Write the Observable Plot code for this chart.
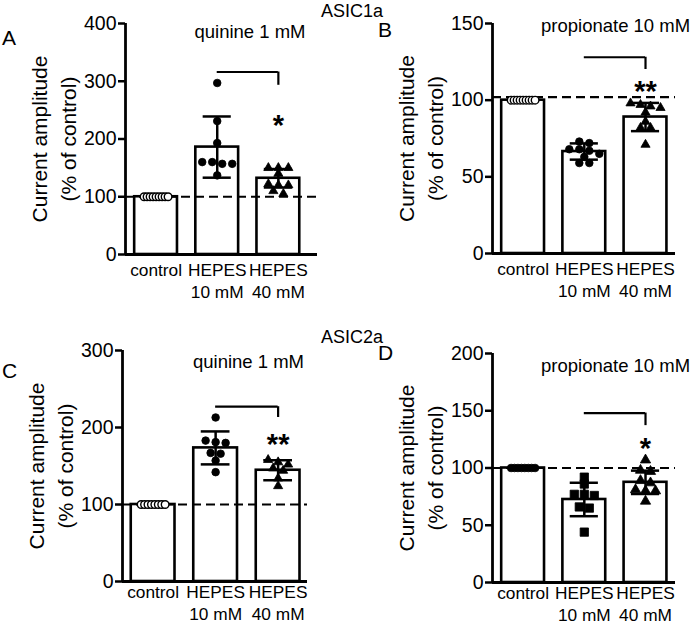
<!DOCTYPE html>
<html>
<head>
<meta charset="utf-8">
<script src="https://cdn.jsdelivr.net/npm/d3@7"></script>
<script src="https://cdn.jsdelivr.net/npm/@observablehq/plot@0.6"></script>
<style>
  html, body { margin: 0; padding: 0; background: #fff; }
  #wrap { position: relative; width: 693px; height: 627px; overflow: hidden;
          font-family: "Liberation Sans", Arial, Helvetica, sans-serif; color: #000; }
  #wrap .lbl { position: absolute; line-height: 1; white-space: nowrap; }
  #wrap svg { position: absolute; overflow: visible; }
</style>
</head>
<body>
<div id="wrap"></div>
<script>
// ---------- data ----------
const categories = ["control", "HEPES\n10 mM", "HEPES\n40 mM"];

// Panel A (ASIC1a, quinine 1 mM)
const aControl = [100, 100, 100, 100, 100, 100, 100, 100, 100];
const aHepes10 = [297, 231, 193, 160, 160, 157, 157, 137];
const aHepes40 = [150, 150, 150, 140, 122, 120, 120, 110, 105];
const aMeans = [100, 186, 132];
const aSD = [0, 53, 16];
const aTicks = [0, 100, 200, 300, 400];
const aBracket = [316, 293];
const aStar = ["*", 237];

// Panel B (ASIC1a, propionate 10 mM)
const bControl = [100, 100, 100, 100, 100, 100, 100, 100, 100];
const bHepes10 = [73, 72, 68, 68, 67, 65, 63, 59, 59];
const bHepes40 = [98, 97, 96, 95, 92, 86, 82, 82, 71];
const bMeans = [100, 66.5, 89];
const bSD = [0, 5.3, 9.2];
const bTicks = [0, 50, 100, 150];
const bBracket = [128, 120];
const bStar = ["**", 110.5];

// Panel C (ASIC2a, quinine 1 mM)
const cControl = [100, 100, 100, 100, 100, 100, 100, 100];
const cHepes10 = [213, 183, 181, 180, 167, 166, 157, 142];
const cHepes40 = [158, 155, 152, 147, 144, 134, 124];
const cMeans = [100, 173.5, 144.5];
const cSD = [0, 21.4, 13];
const cTicks = [0, 100, 200, 300];
const cBracket = [227, 213];
const cStar = ["**", 188];

// Panel D (ASIC2a, propionate 10 mM)
const dControl = [100, 100, 100, 100, 100, 100, 100, 100];
const dHepes10 = [92, 86, 77, 77, 76, 66, 65, 44];
const dHepes40 = [107, 98, 97, 89, 87, 81, 80, 80, 71];
const dMeans = [100, 72.5, 87.5];
const dSD = [0, 14.6, 10.2];
const dTicks = [0, 50, 100, 150, 200];
const dBracket = [148, 137];
const dStar = ["*", 124];

const refLines = [100, 102, 100, 100];
const yLabel = "Current amplitude\n(% of control)";

// ---------- layout ----------
const FONT = "Liberation Sans, Arial, Helvetica, sans-serif";
const panels = [
  {left: 0, top: 0, width: 346, height: 305, ml: 125, mr: 29, mt: 23, mb: 51, xdom: [-0.5, 2.64], ymax: 400, catDy: 6,
   ticks: aTicks, means: aMeans, sd: aSD, pts: [aControl, aHepes10, aHepes40], bracket: aBracket, star: aStar,
   ref: refLines[0], syms: ["circle", "circle", "triangle"], fills: ["white", "black", "black"], rs: [3.8, 3.8, 3.4]},
  {left: 340, top: 0, width: 353, height: 305, ml: 152, mr: 18, mt: 23, mb: 52, xdom: [-0.5, 2.49], ymax: 150, catDy: 6,
   ticks: bTicks, means: bMeans, sd: bSD, pts: [bControl, bHepes10, bHepes40], bracket: bBracket, star: bStar,
   ref: refLines[1], syms: ["circle", "circle", "triangle"], fills: ["white", "black", "black"], rs: [3.8, 3.8, 3.4]},
  {left: 0, top: 300, width: 346, height: 327, ml: 122, mr: 39, mt: 50, mb: 46, xdom: [-0.49, 2.47], ymax: 300, catDy: 1,
   ticks: cTicks, means: cMeans, sd: cSD, pts: [cControl, cHepes10, cHepes40], bracket: cBracket, star: cStar,
   ref: refLines[2], syms: ["circle", "circle", "triangle"], fills: ["white", "black", "black"], rs: [3.8, 3.8, 3.4]},
  {left: 340, top: 300, width: 353, height: 327, ml: 152, mr: 18, mt: 53, mb: 45, xdom: [-0.5, 2.49], ymax: 200, catDy: 1,
   ticks: dTicks, means: dMeans, sd: dSD, pts: [dControl, dHepes10, dHepes40], bracket: dBracket, star: dStar,
   ref: refLines[3], syms: ["circle", "square", "triangle"], fills: ["black", "black", "black"], rs: [3.8, 4.7, 3.8]}
];

// scatter-dot arrangement (rows of near-equal values spread horizontally)
function swarm(values, k, stepPx, ci) {
  const sorted = values.slice().sort((a, b) => b - a);
  const rows = [];
  for (const v of sorted) {
    const row = rows[rows.length - 1];
    if (row && (row[0] - v) * k < 5) row.push(v); else rows.push([v]);
  }
  const out = [];
  for (const row of rows) {
    const n = row.length;
    const maxW = n > 5 ? 24 : 32;
    let s = 10;
    if ((n - 1) * s > maxW) s = maxW / (n - 1);
    row.forEach((v, j) => out.push({x: ci + (j - (n - 1) / 2) * s / stepPx, y: v}));
  }
  return out;
}

const wrap = document.getElementById("wrap");

panels.forEach((p) => {
  const k = (p.height - p.mt - p.mb) / p.ymax;
  const stepPx = (p.width - p.ml - p.mr) / (p.xdom[1] - p.xdom[0]);
  const bars = p.means.map((m, i) => ({i, mean: m, sd: p.sd[i]}));
  const errs = bars.filter(d => d.sd > 0);
  const cats = categories.map((c, i) => ({i, label: c}));
  const dotMarks = p.pts.map((vals, ci) =>
    Plot.dot(swarm(vals, k, stepPx, ci), {
      x: "x", y: "y", symbol: p.syms[ci], r: p.rs[ci],
      fill: p.fills[ci], stroke: "black", strokeWidth: p.fills[ci] === "white" ? 1.4 : 0.8
    })
  );
  const br = [{from: 1, to: 2, top: p.bracket[0], bottom: p.bracket[1]}];
  const st = [{x: 2, y: p.star[1], s: p.star[0]}];

  const chart = Plot.plot({
    width: p.width, height: p.height,
    marginLeft: p.ml, marginRight: p.mr, marginTop: p.mt, marginBottom: p.mb,
    style: {fontFamily: FONT, background: "transparent", overflow: "visible"},
    x: {domain: p.xdom, axis: null},
    y: {domain: [0, p.ymax], axis: null},
    marks: [
      Plot.rect(bars, {x1: d => d.i - 0.35, x2: d => d.i + 0.35, y1: d => 0, y2: "mean",
                       fill: "white", stroke: "black", strokeWidth: 2.6}),
      Plot.ruleY([p.ref], {stroke: "black", strokeWidth: 2.2, strokeDasharray: "9,5"}),
      ...dotMarks,
      Plot.ruleX(errs, {x: "i", y1: d => d.mean - d.sd, y2: d => d.mean + d.sd, stroke: "black", strokeWidth: 2.5}),
      Plot.ruleY(errs, {y: d => d.mean + d.sd, x1: d => d.i - 0.23, x2: d => d.i + 0.23, stroke: "black", strokeWidth: 2.5}),
      Plot.ruleY(errs, {y: d => d.mean - d.sd, x1: d => d.i - 0.23, x2: d => d.i + 0.23, stroke: "black", strokeWidth: 2.5}),
      Plot.ruleY(br, {y: "top", x1: "from", x2: "to", stroke: "black", strokeWidth: 2.2}),
      Plot.ruleX(br, {x: "to", y1: "bottom", y2: "top", stroke: "black", strokeWidth: 2.2}),
      Plot.text(st, {x: "x", y: "y", text: "s", fontSize: 29, fontWeight: "bold", dy: 8, fill: "black"}),
      Plot.ruleY([0], {stroke: "black", strokeWidth: 2.8}),
      Plot.ruleX([p.xdom[0]], {stroke: "black", strokeWidth: 2.8}),
      // y ticks and tick labels
      Plot.ruleY(p.ticks, {y: d => d, x1: () => p.xdom[0], x2: () => p.xdom[0], insetLeft: -7, stroke: "black", strokeWidth: 2.5}),
      Plot.text(p.ticks, {y: d => d, frameAnchor: "left", textAnchor: "end", lineAnchor: "middle", dx: -9,
                          text: d => String(d), fontSize: 19.5, fill: "black"}),
      // category labels
      Plot.text(cats, {x: "i", frameAnchor: "bottom", lineAnchor: "top", textAnchor: "middle", dy: p.catDy, text: "label",
                       fontSize: 17.3, lineHeight: 1.27, fill: "black"}),
      // y axis title
      Plot.text([yLabel], {frameAnchor: "left", textAnchor: "middle", lineAnchor: "middle", rotate: -90, dx: -73, text: d => d,
                           fontSize: 21, lineHeight: 1.38, fill: "black"})
    ]
  });
  chart.style.left = p.left + "px";
  chart.style.top = p.top + "px";
  wrap.appendChild(chart);
});

// ---------- annotation texts ----------
const notes = [
  {t: "A", x: 2, base: 45, fs: 21},
  {t: "B", x: 378, base: 37, fs: 21},
  {t: "C", x: 2, base: 378, fs: 21},
  {t: "D", x: 378, base: 360, fs: 21},
  {t: "ASIC1a", cx: 352, base: 17, fs: 18},
  {t: "ASIC2a", cx: 352, base: 343, fs: 18},
  {t: "quinine 1 mM", cx: 250, base: 39, fs: 18.5},
  {t: "propionate 10 mM", x: 541, base: 33, fs: 18.5},
  {t: "quinine 1 mM", cx: 248.5, base: 369, fs: 18.5},
  {t: "propionate 10 mM", x: 541, base: 373, fs: 18.5}
];
notes.forEach(n => {
  const s = document.createElement("div");
  s.className = "lbl";
  s.textContent = n.t;
  s.style.fontSize = n.fs + "px";
  s.style.top = (n.base - 0.8465 * n.fs) + "px";
  if (n.cx !== undefined) {
    s.style.left = (n.cx - 100) + "px";
    s.style.width = "200px";
    s.style.textAlign = "center";
  } else {
    s.style.left = n.x + "px";
  }
  wrap.appendChild(s);
});
</script>
</body>
</html>
